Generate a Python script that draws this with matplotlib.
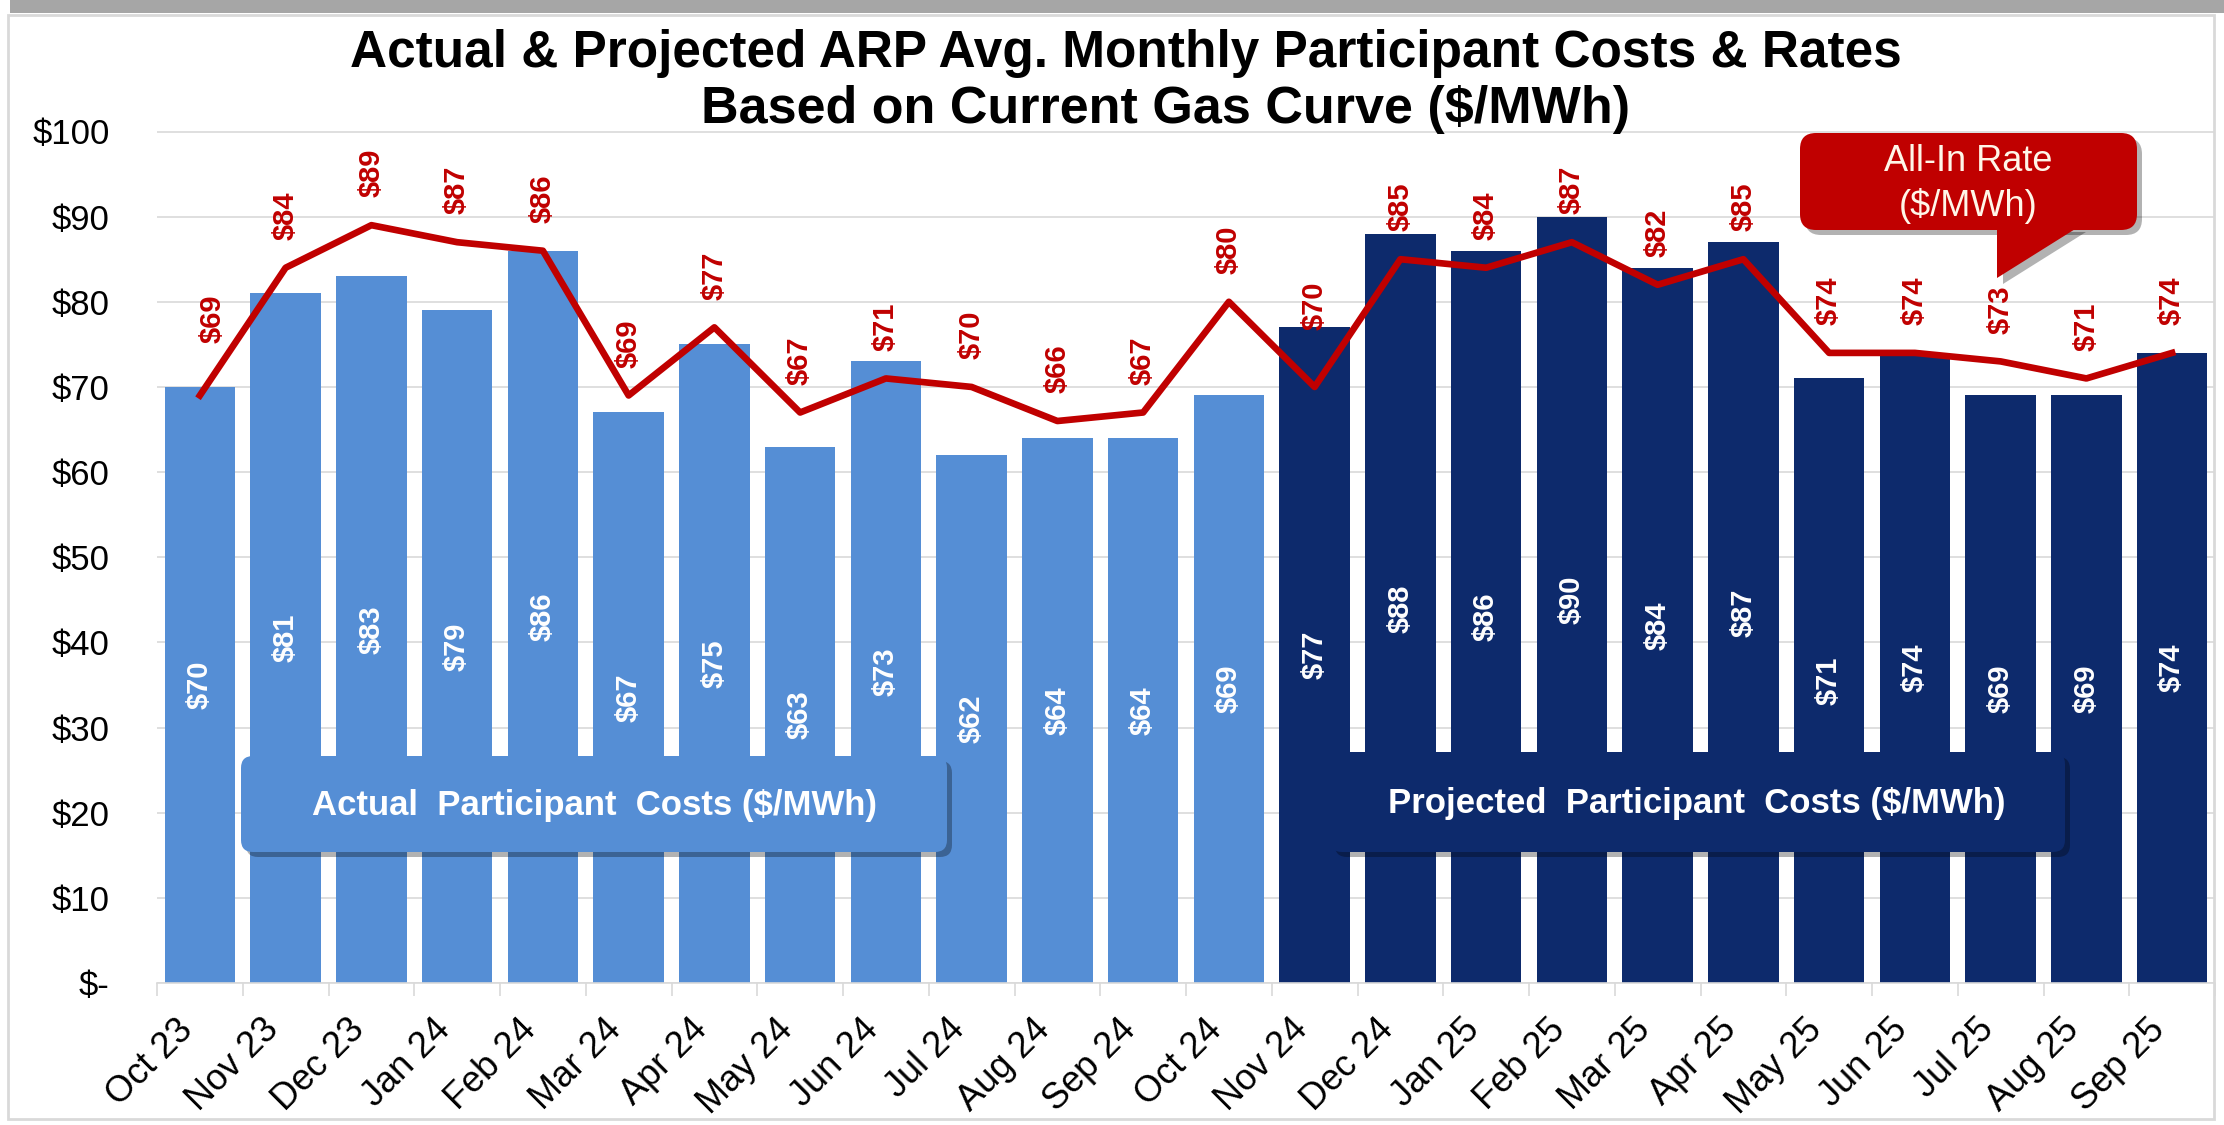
import numpy as np
import matplotlib
matplotlib.use("Agg")
import matplotlib.pyplot as plt
from matplotlib.patches import FancyBboxPatch, Polygon, Rectangle
from matplotlib.transforms import IdentityTransform

plt.rcParams['font.family'] = ['Liberation Sans', 'DejaVu Sans']

# data
months = ['Oct 23', 'Nov 23', 'Dec 23', 'Jan 24', 'Feb 24', 'Mar 24', 'Apr 24', 'May 24',
          'Jun 24', 'Jul 24', 'Aug 24', 'Sep 24', 'Oct 24', 'Nov 24', 'Dec 24', 'Jan 25',
          'Feb 25', 'Mar 25', 'Apr 25', 'May 25', 'Jun 25', 'Jul 25', 'Aug 25', 'Sep 25']
participant_costs = [70, 81, 83, 79, 86, 67, 75, 63, 73, 62, 64, 64, 69,
                     77, 88, 86, 90, 84, 87, 71, 74, 69, 69, 74]
all_in_rate = [69, 84, 89, 87, 86, 69, 77, 67, 71, 70, 66, 67, 80,
               70, 85, 84, 87, 82, 85, 74, 74, 73, 71, 74]
n_actual = 13  # Oct 23 .. Oct 24 are actuals, rest projected
y_ticks = [0, 10, 20, 30, 40, 50, 60, 70, 80, 90, 100]

LIGHT = '#558ED5'
NAVY = '#0D2A6C'
RED = '#C00000'

# a couple of the red labels sit a bit higher in the original (offset points)
label_nudge = {0: (9, 38), 13: (0, 41)}

W, H = 2224, 1125
fig = plt.figure(figsize=(W / 100, H / 100), dpi=100)
ax = fig.add_axes([157 / W, 1 - 983 / H, (2215 - 157) / W, (983 - 131.5) / H])

x = np.arange(len(months))
colors = [LIGHT if i < n_actual else NAVY for i in range(len(months))]
ax.bar(x, participant_costs, width=0.82, color=colors, zorder=2)
ax.plot(x, all_in_rate, color=RED, lw=4.8, zorder=3)

for i, v in enumerate(participant_costs):
    ax.text(i, v / 2, f'${v}', rotation=90, ha='center', va='center',
            color='white', fontsize=21, fontweight='bold', zorder=4)
for i, v in enumerate(all_in_rate):
    ax.annotate(f'${v}', (i, v), xytext=label_nudge.get(i, (0, 20)), textcoords='offset points',
                rotation=90, ha='center', va='bottom', color=RED,
                fontsize=21, fontweight='bold', zorder=4)

ax.set_xlim(-0.5, len(months) - 0.5)
ax.set_ylim(0, 100)
ax.set_yticks(y_ticks)
ax.set_yticklabels(['$-' if t == 0 else f'${t}' for t in y_ticks])
ax.set_xticks(x)
ax.set_xticklabels(months, rotation=45, ha='right')
ax.set_xticks(np.arange(-0.5, len(months), 1), minor=True)
ax.tick_params(axis='y', length=0, pad=34, labelsize=25)
ax.tick_params(axis='x', which='major', length=0, pad=21, labelsize=26)
ax.tick_params(axis='x', which='minor', length=9, width=1.2, color='#D9D9D9')
ax.yaxis.grid(True, color='#D9D9D9', lw=1.2, zorder=0)
ax.set_axisbelow(True)
for s in ['left', 'right', 'top']:
    ax.spines[s].set_visible(False)
ax.spines['bottom'].set_color('#D9D9D9')
ax.spines['bottom'].set_linewidth(1.2)

# frame and top band
idt = IdentityTransform()
fig.add_artist(Rectangle((10, H - 13), W - 10, 13, transform=idt, fc='#A6A6A6', ec='none'))
fig.add_artist(Rectangle((8, 6), 2206, H - 21, transform=idt, fc='none', ec='#D9D9D9', lw=2))

# title
fig.text(1126 / W, 1 - 67 / H, 'Actual & Projected ARP Avg. Monthly Participant Costs & Rates',
         ha='center', va='baseline', fontsize=37, fontweight='bold')
fig.text(1166 / W, 1 - 123 / H, 'Based on Current Gas Curve ($/MWh)',
         ha='center', va='baseline', fontsize=37.5, fontweight='bold')


def box(x0, y0, x1, y1, color, r=12):
    # shadow then box, pixel coords from top-left
    sh = FancyBboxPatch((x0 + 5, H - y1 - 5), x1 - x0, y1 - y0,
                        boxstyle=f'round,pad=0,rounding_size={r}', transform=idt,
                        fc='black', ec='none', alpha=0.3)
    b = FancyBboxPatch((x0, H - y1), x1 - x0, y1 - y0,
                       boxstyle=f'round,pad=0,rounding_size={r}', transform=idt,
                       fc=color, ec='none')
    fig.add_artist(sh)
    fig.add_artist(b)


box(241, 756, 947, 852, LIGHT)
fig.text(594 / W, 1 - 805 / H, 'Actual  Participant  Costs ($/MWh)', ha='center', va='center',
         color='white', fontsize=25, fontweight='bold')
box(1330, 752, 2065, 852, NAVY)
fig.text(1697 / W, 1 - 803 / H, 'Projected  Participant  Costs ($/MWh)', ha='center', va='center',
         color='white', fontsize=25, fontweight='bold')

# red callout for the line
tri = [(1997, H - 226), (2080, H - 226), (1997, H - 278)]
fig.add_artist(Polygon([(px + 6, py - 6) for px, py in tri], closed=True, transform=idt,
                       fc='black', ec='none', alpha=0.3))
box(1800, 133, 2137, 230, RED, r=16)
fig.add_artist(Polygon(tri, closed=True, transform=idt, fc=RED, ec='none'))
fig.text(1968 / W, 1 - 184 / H, 'All-In Rate\n($/MWh)', ha='center', va='center',
         color='#FFF6E8', fontsize=26, linespacing=1.3)

fig.savefig('out.png', dpi=100)
